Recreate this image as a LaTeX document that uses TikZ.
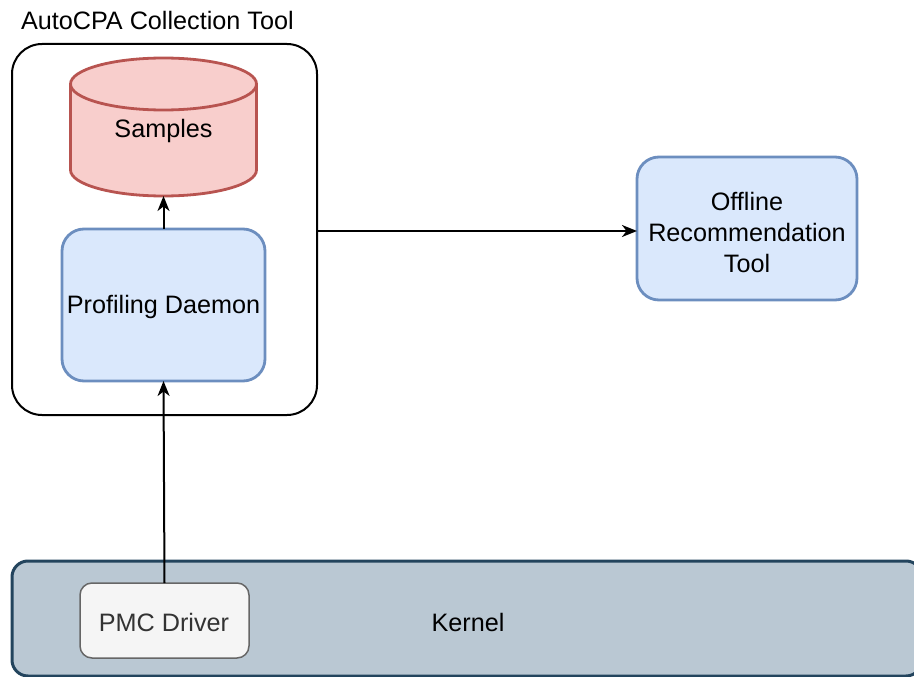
\documentclass[tikz,border=0pt]{standalone}
\usepackage{fontspec}
\setmainfont{Liberation Sans}
\usetikzlibrary{arrows.meta,calc}
\definecolor{bluefill}{HTML}{DAE8FC}
\definecolor{blueline}{HTML}{6C8EBF}
\definecolor{redfill}{HTML}{F8CECC}
\definecolor{redline}{HTML}{B85450}
\definecolor{kfill}{HTML}{BAC8D3}
\definecolor{kline}{HTML}{23445D}
\definecolor{gfill}{HTML}{F5F5F5}
\definecolor{gline}{HTML}{666666}
\definecolor{gtext}{HTML}{333333}
\tikzset{
  x=1pt, y=-1pt,
  every node/.style={font=\fontsize{25.2}{31}\selectfont, inner sep=0pt, outer sep=0pt},
  bluebox/.style={draw=blueline, fill=bluefill, line width=2.8pt, rounded corners=22pt},
  container/.style={draw=black, line width=2pt, rounded corners=30pt},
  kernelbox/.style={draw=kline, fill=kfill, line width=3pt, rounded corners=16pt},
  pmcbox/.style={draw=gline, fill=gfill, line width=1.5pt, rounded corners=12pt},
  lbl/.style={align=center},
  conn/.style={line width=2pt, -{Stealth[length=15pt,width=12pt,inset=4.5pt]}},
}
\begin{document}
\begin{tikzpicture}
\useasboundingbox (0,0) rectangle (914,677);
\clip (0,0) rectangle (914,677);
% title
\node[anchor=west] (title) at (21,20) {AutoCPA Collection Tool};
% container
\node[container, minimum width=305pt, minimum height=371pt] (coll) at (164.5,229.5) {};
% kernel
\node[kernelbox, minimum width=910pt, minimum height=115pt] (kernel) at (467,618.5) {};
\node[lbl] (ktext) at (468,622) {Kernel};
% PMC driver
\node[pmcbox, minimum width=169pt, minimum height=75pt] (pmc) at (164.5,620.5) {};
\node[lbl, text=gtext] (pmctext) at (164,622) {PMC Driver};
% cylinder samples
\path[draw=redline, fill=redfill, line width=2.8pt]
  (70.5,84) -- (70.5,170) arc[start angle=180, end angle=0, x radius=93, y radius=26]
  -- (256.5,84) arc[start angle=0, end angle=-180, x radius=93, y radius=26] -- cycle;
\draw[redline, line width=2.8pt] (70.5,84) arc[start angle=180, end angle=0, x radius=93, y radius=26];
\node[minimum width=186pt, minimum height=138pt] (samples) at (163.5,127) {};
\node[lbl] (stext) at (163.5,131) {Samples};
% profiling daemon
\node[bluebox, minimum width=203pt, minimum height=152pt] (pd) at (163.5,305) {};
\node[lbl] (pdtext) at (163.5,307) {Profiling Daemon};
% offline
\node[bluebox, minimum width=220pt, minimum height=143pt] (off) at (747,228.5) {};
\node[lbl] (offtext) at (747,232) {Offline\\Recommendation\\Tool};
% connectors
\draw[conn] (pd.north) -- (samples.south);
\draw[conn] (pmc.north) -- (pd.south);
\draw[conn] ($(coll.east)+(0,1.5)$) -- ($(off.west)+(0,2.5)$);
\end{tikzpicture}
\end{document}
